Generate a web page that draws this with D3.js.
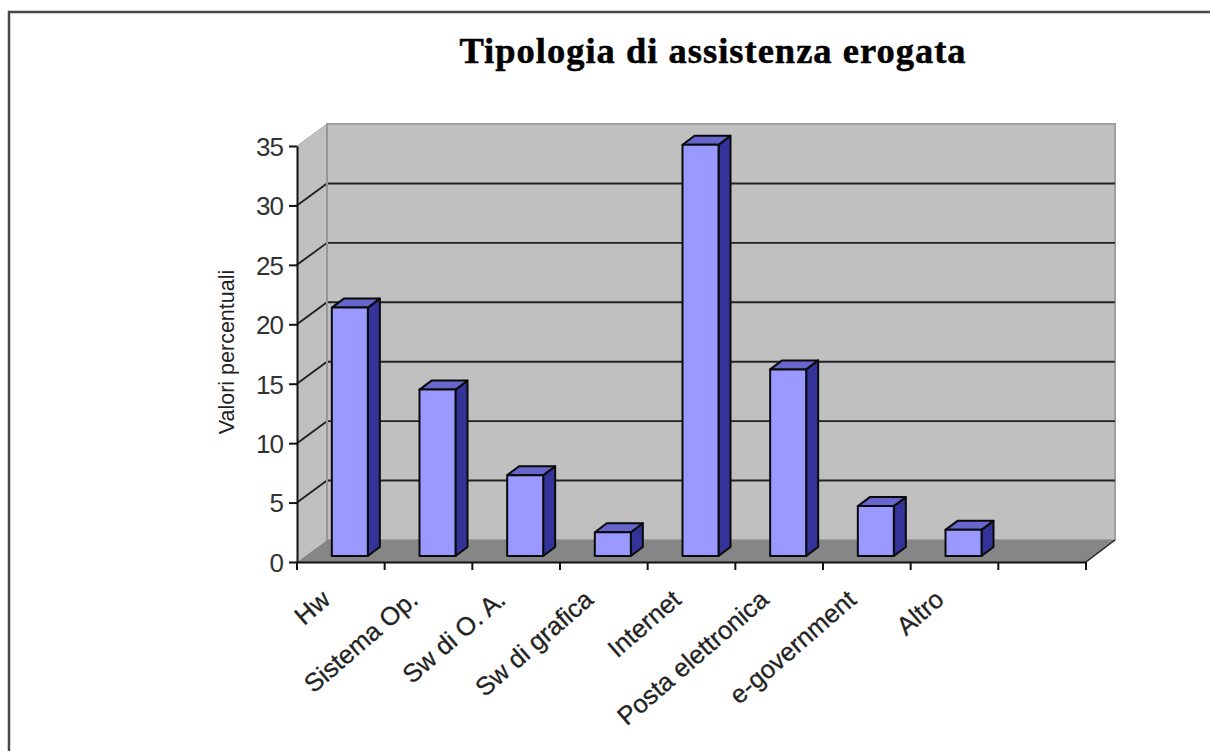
<!DOCTYPE html>
<html>
<head>
<meta charset="utf-8">
<script src="https://cdn.jsdelivr.net/npm/d3@7"></script>
<style>
  html, body { margin: 0; padding: 0; background: #fff; overflow: hidden; }
</style>
</head>
<body>
<div id="chart"></div>
<script>
var categories = ["Hw", "Sistema Op.", "Sw di O. A.", "Sw di grafica", "Internet", "Posta elettronica", "e-government", "Altro", ""];
var values = [20.9, 14, 6.8, 2, 34.6, 15.7, 4.2, 2.2];
var yTicks = [0, 5, 10, 15, 20, 25, 30, 35];

var svg = d3.select("#chart").append("svg")
    .attr("width", 1210)
    .attr("height", 751)
    .style("display", "block");

// frame, only the top and left edges are in the crop
svg.append("path")
    .attr("d", "M9,751V12H1210")
    .attr("fill", "none")
    .attr("stroke", "#484848")
    .attr("stroke-width", 2.5);

svg.append("text")
    .text("Tipologia di assistenza erogata")
    .attr("x", 713)
    .attr("y", 63)
    .attr("text-anchor", "middle")
    .attr("stroke", "#000")
    .attr("stroke-width", 0.5)
    .style("font-family", "'Liberation Serif'")
    .style("font-weight", "bold")
    .style("font-size", "36.5px")
    .style("letter-spacing", "1px");

var x = d3.scaleBand().domain(categories).range([297, 1086]);
var y = d3.scaleLinear().domain([0, 35]).range([562, 146]);

// depth of the 3d box, and of the bars
var dx = 30, dy = -22;
var barDx = 12, barDy = -9, barOffY = -6;
var barW = 36;

var left = x.range()[0], right = x.range()[1];
var wallTop = y(35) + dy, wallBottom = y(0) + dy;

var plot = svg.append("g");

// back wall, side wall, floor
plot.append("path")
    .attr("d", d3.line()([[left + dx, wallTop], [right + dx - 1, wallTop], [right + dx - 1, wallBottom], [left + dx, wallBottom]]) + "Z")
    .attr("fill", "#c0c0c0")
    .attr("stroke", "#a0a0a0")
    .attr("stroke-width", 2);
plot.append("path")
    .attr("d", d3.line()([[left, y(35)], [left + dx, wallTop], [left + dx, wallBottom], [left, y(0)]]) + "Z")
    .attr("fill", "#c0c0c0");
plot.append("path")
    .attr("d", d3.line()([[left, y(0)], [left + dx, wallBottom], [right + dx - 1, wallBottom], [right, y(0)]]) + "Z")
    .attr("fill", "#868686");

// grid lines on the side and back walls
var gridTicks = yTicks.filter(function (d) { return d > 0 && d < 35; });
plot.selectAll(".grid")
    .data(gridTicks)
    .enter()
    .append("path")
    .attr("d", function (d) {
        return "M" + left + "," + y(d) + "L" + (left + dx) + "," + (y(d) + dy) + "H" + (right + dx - 1);
    })
    .attr("fill", "none")
    .attr("stroke", "#222")
    .attr("stroke-width", 1.9);
plot.append("line")
    .attr("x1", left).attr("y1", y(35))
    .attr("x2", left + dx).attr("y2", wallTop)
    .attr("stroke", "#b0b0b0");
plot.append("line")
    .attr("x1", left + dx).attr("y1", wallTop)
    .attr("x2", left + dx).attr("y2", wallBottom)
    .attr("stroke", "#969696")
    .attr("stroke-width", 2);
plot.append("line")
    .attr("x1", right).attr("y1", y(0))
    .attr("x2", right + dx - 1).attr("y2", wallBottom)
    .attr("stroke", "#222")
    .attr("stroke-width", 1.5);

// bars
var bars = plot.selectAll(".bar")
    .data(values)
    .enter()
    .append("g")
    .attr("class", "bar")
    .attr("stroke", "#0a0a0a")
    .attr("stroke-width", 2)
    .attr("stroke-linejoin", "round");

function barLeft(i) { return x(categories[i]) + (x.bandwidth() - barW) / 2 + 9; }
function barTop(d) { return y(d) + barOffY; }
var barBase = y(0) + barOffY;

bars.append("path")
    .attr("d", function (d, i) {
        var r = barLeft(i) + barW, t = barTop(d);
        return "M" + r + "," + t + "l" + barDx + "," + barDy + "V" + (barBase + barDy) + "L" + r + "," + barBase + "Z";
    })
    .attr("fill", "#333399");
bars.append("path")
    .attr("d", function (d, i) {
        var l = barLeft(i), t = barTop(d);
        return "M" + l + "," + t + "l" + barDx + "," + barDy + "h" + barW + "l" + (-barDx) + "," + (-barDy) + "Z";
    })
    .attr("fill", "#6666cc");
bars.append("rect")
    .attr("x", function (d, i) { return barLeft(i); })
    .attr("y", function (d) { return barTop(d); })
    .attr("width", barW)
    .attr("height", function (d) { return barBase - barTop(d); })
    .attr("fill", "#9999ff");

// axes
var yAxis = d3.axisLeft(y).tickValues(yTicks).tickSize(8).tickSizeOuter(0);
var yG = svg.append("g")
    .attr("transform", "translate(" + left + ",0)")
    .call(yAxis);
yG.select(".domain").attr("stroke", "#111").attr("stroke-width", 2);
yG.selectAll(".tick line").attr("stroke", "#111").attr("stroke-width", 2);
yG.selectAll(".tick text")
    .attr("x", -14)
    .attr("dy", "0.36em")
    .attr("fill", "#333")
    .style("font-family", "'Liberation Sans'")
    .style("font-size", "26px")
    .style("letter-spacing", "-1px");

var xAxis = d3.axisBottom(x).tickSize(0).tickFormat(function () { return ""; });
var xG = svg.append("g")
    .attr("transform", "translate(0," + y(0) + ")")
    .call(xAxis);
xG.select(".domain").attr("stroke", "#111").attr("stroke-width", 2);

// tick marks sit on the band edges, not the centres
svg.append("g").selectAll("line")
    .data(categories)
    .enter()
    .append("line")
    .attr("x1", function (d) { return x(d); })
    .attr("x2", function (d) { return x(d); })
    .attr("y1", y(0))
    .attr("y2", y(0) + 8)
    .attr("stroke", "#111")
    .attr("stroke-width", 2);
svg.append("line")
    .attr("x1", right).attr("x2", right)
    .attr("y1", y(0)).attr("y2", y(0) + 8)
    .attr("stroke", "#111")
    .attr("stroke-width", 2);

// rotated category labels
svg.append("g").selectAll("text")
    .data(categories.filter(function (d) { return d !== ""; }))
    .enter()
    .append("text")
    .text(function (d) { return d; })
    .attr("text-anchor", "end")
    .attr("transform", function (d) {
        return "translate(" + (x(d) + x.bandwidth() / 2 - 9) + "," + (y(0) + 40) + ") rotate(-41)";
    })
    .attr("fill", "#222")
    .attr("stroke", "#222")
    .attr("stroke-width", 0.3)
    .style("font-family", "'Liberation Sans'")
    .style("font-size", "25.5px");

svg.append("text")
    .text("Valori percentuali")
    .attr("transform", "translate(234,352) rotate(-90)")
    .attr("text-anchor", "middle")
    .attr("fill", "#222")
    .style("font-family", "'Liberation Sans'")
    .style("font-size", "21.5px");
</script>
</body>
</html>
